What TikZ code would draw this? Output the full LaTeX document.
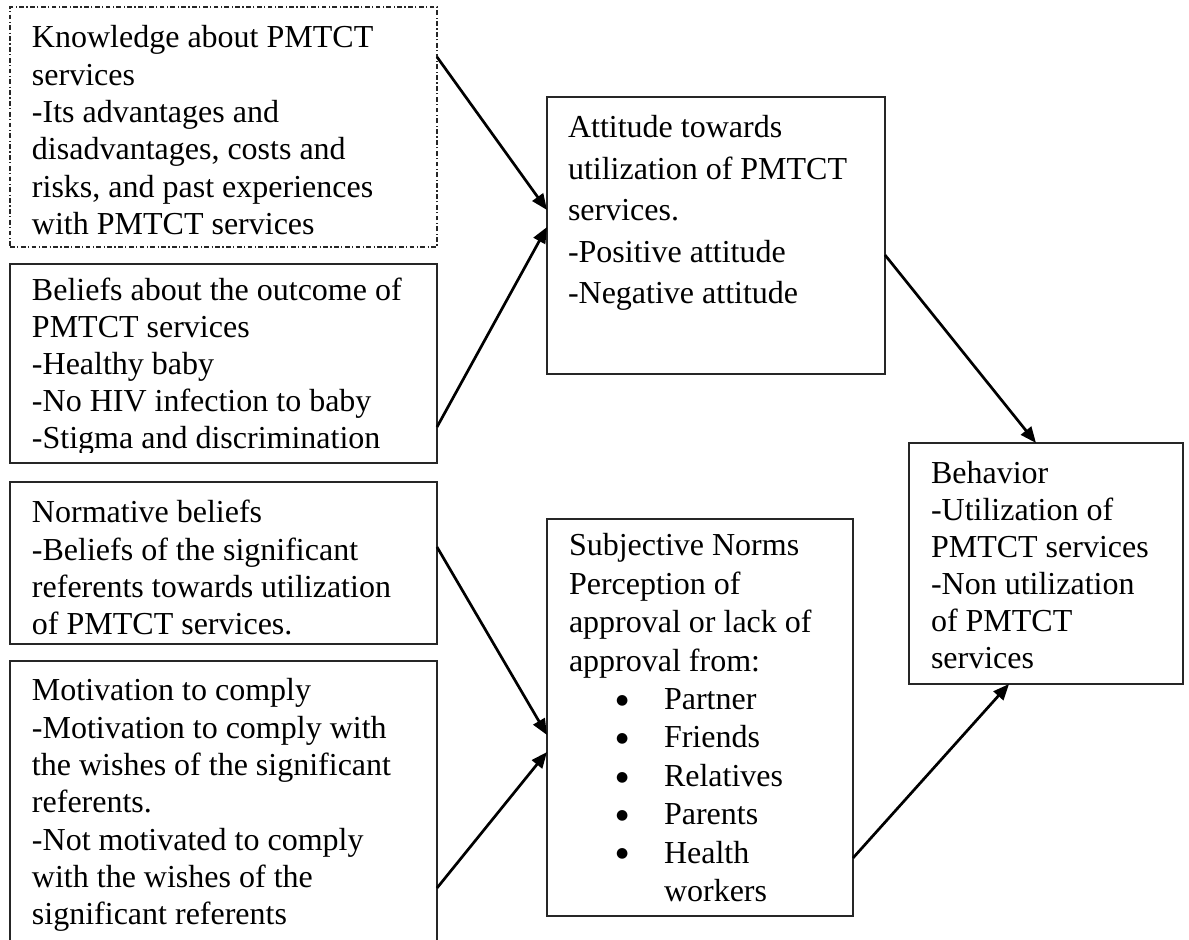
\documentclass[tikz,border=0pt]{standalone}
\usepackage{fontspec}
\setmainfont{Liberation Serif}
\newfontfamily\symfont{DejaVu Sans}
\usetikzlibrary{calc,arrows.meta}
\tikzset{
  box/.style={draw=black!85, line width=0.6pt, rectangle, inner sep=0pt, outer sep=0pt, anchor=north west},
  ddbox/.style={box, dash pattern=on 2.4pt off 1.2pt on 0.6pt off 1.2pt},
  txt/.style={anchor=base west, inner sep=0pt, outer sep=0pt},
  conn/.style={line width=1.35pt, -{Triangle[length=8pt,width=6.5pt]}},
}
\newcommand{\tb}[3]{\parbox[t]{#1}{\fontsize{16}{#2}\selectfont\raggedright #3}}
\newcommand{\bul}[1]{\hspace*{23.5pt}\makebox[24pt][l]{\raisebox{2.6pt}{\symfont\fontsize{7}{7}\selectfont ●}}#1}
\begin{document}
\begin{tikzpicture}[x=0.5pt,y=-0.5pt]
\useasboundingbox (0,0) rectangle (1189,940);
% boxes
\node[ddbox, minimum width=213.5pt, minimum height=120pt] (know) at (10,7) {};
\node[box, minimum width=213.5pt, minimum height=99.5pt] (bel) at (10,264) {};
\node[box, minimum width=213.5pt, minimum height=81pt] (norm) at (10,482) {};
\node[box, minimum width=213.5pt, minimum height=150pt] (mot) at (10,661) {};
\node[box, minimum width=169pt, minimum height=138.5pt] (att) at (547,97) {};
\node[box, minimum width=153pt, minimum height=198.5pt] (subj) at (547,519) {};
\node[box, minimum width=137pt, minimum height=120.5pt] (beh) at (909,443) {};
% texts
\node[txt] (knowt) at (32,48) {\tb{200pt}{18.65pt}{Knowledge about PMTCT\\services\\-Its advantages and\\disadvantages, costs and\\risks, and past experiences\\with PMTCT services}};
\begin{scope}
\clip (10,264) rectangle (437,453);
\node[txt] (belt) at (32,301) {\tb{200pt}{18.5pt}{Beliefs about the outcome of\\PMTCT services\\-Healthy baby\\-No HIV infection to baby\\-Stigma and discrimination}};
\end{scope}
\node[txt] (normt) at (32,523) {\tb{200pt}{18.6pt}{Normative beliefs\\-Beliefs of the significant\\referents towards utilization\\of PMTCT services.}};
\node[txt] (mott) at (32,701) {\tb{200pt}{18.65pt}{Motivation to comply\\-Motivation to comply with\\the wishes of the significant\\referents.\\-Not motivated to comply\\with the wishes of the\\significant referents}};
\node[txt] (attt) at (568,138) {\tb{160pt}{20.75pt}{Attitude towards\\utilization of PMTCT\\services.\\-Positive attitude\\-Negative attitude}};
\node[txt] (subjt) at (569,556) {\tb{145pt}{19.2pt}{Subjective Norms\\Perception of\\approval or lack of\\approval from:\\\bul{Partner}\\\bul{Friends}\\\bul{Relatives}\\\bul{Parents}\\\bul{Health}\\\hspace*{47.5pt}workers}};
\node[txt] (beht) at (931,484) {\tb{130pt}{18.5pt}{Behavior\\-Utilization of\\PMTCT services\\-Non utilization\\of PMTCT\\services}};
% connectors
\draw[conn] ($(know.north east)+(0,50)$) -- ($(att.north west)+(0,113)$);
\draw[conn] ($(bel.north east)+(0,163)$) -- ($(att.north west)+(0,130)$);
\draw[conn] ($(att.north east)+(0,158)$) -- ($(beh.north west)+(127,0)$);
\draw[conn] ($(norm.north east)+(0,65)$) -- ($(subj.north west)+(0,216)$);
\draw[conn] ($(mot.north east)+(0,227)$) -- ($(subj.north west)+(0,233)$);
\draw[conn] ($(subj.north east)+(0,339)$) -- ($(beh.south west)+(100,0)$);
\end{tikzpicture}
\end{document}
